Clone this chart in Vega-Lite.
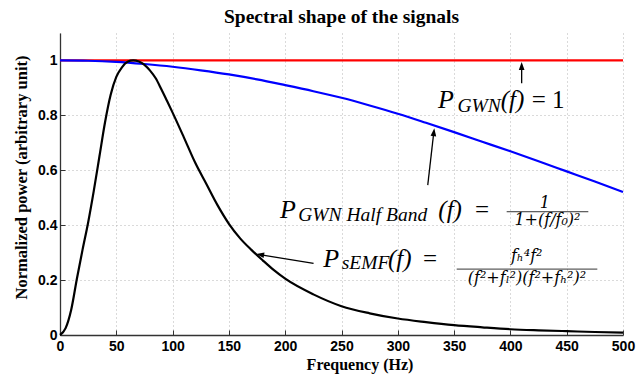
{
  "$schema": "https://vega.github.io/schema/vega-lite/v6.json",
  "width": 563,
  "height": 302,
  "autosize": {"type": "none"},
  "padding": {"left": 60, "top": 33, "right": 20, "bottom": 39},
  "background": "white",
  "title": {"text": "Spectral shape of the signals", "font": "Liberation Serif", "fontSize": 19.5, "fontWeight": "bold", "color": "black", "anchor": "middle", "offset": 6},
  "config": {
    "view": {"stroke": null},
    "axis": {"labelFont": "Liberation Sans", "labelFontSize": 14, "labelFontWeight": "bold", "labelColor": "#000", "titleFont": "Liberation Serif", "titleFontSize": 16, "titleFontWeight": "bold", "titleColor": "#000", "domainColor": "#333", "domainWidth": 1.3, "tickColor": "#333", "tickSize": -5, "gridColor": "#b4b4b4", "gridDash": [1, 3], "gridWidth": 1, "labelOverlap": false, "labelFlush": false}
  },
  "datasets": {
    "red": [{"f": 0, "v": 1}, {"f": 500, "v": 1}],
    "blue": [
      {"f": 0, "v": 1.0}, {"f": 25, "v": 0.999}, {"f": 50, "v": 0.995}, {"f": 75, "v": 0.987}, {"f": 100, "v": 0.977},
      {"f": 125, "v": 0.964}, {"f": 150, "v": 0.949}, {"f": 175, "v": 0.931}, {"f": 200, "v": 0.91}, {"f": 225, "v": 0.888},
      {"f": 250, "v": 0.864}, {"f": 275, "v": 0.836}, {"f": 300, "v": 0.806}, {"f": 325, "v": 0.773}, {"f": 350, "v": 0.739},
      {"f": 375, "v": 0.704}, {"f": 400, "v": 0.669}, {"f": 425, "v": 0.633}, {"f": 450, "v": 0.596}, {"f": 475, "v": 0.559},
      {"f": 500, "v": 0.521}
    ],
    "black": [
      {"f": 0, "v": 0}, {"f": 5, "v": 0.025}, {"f": 10, "v": 0.093}, {"f": 15, "v": 0.205}, {"f": 20, "v": 0.31},
      {"f": 25, "v": 0.41}, {"f": 30, "v": 0.525}, {"f": 35, "v": 0.65}, {"f": 40, "v": 0.775}, {"f": 45, "v": 0.875},
      {"f": 50, "v": 0.94}, {"f": 55, "v": 0.975}, {"f": 60, "v": 0.995}, {"f": 65, "v": 1.0}, {"f": 70, "v": 0.996},
      {"f": 75, "v": 0.984}, {"f": 80, "v": 0.963}, {"f": 85, "v": 0.935}, {"f": 90, "v": 0.895}, {"f": 95, "v": 0.853},
      {"f": 100, "v": 0.81}, {"f": 110, "v": 0.72}, {"f": 120, "v": 0.628}, {"f": 130, "v": 0.55}, {"f": 140, "v": 0.472},
      {"f": 150, "v": 0.405}, {"f": 160, "v": 0.352}, {"f": 170, "v": 0.31}, {"f": 180, "v": 0.272}, {"f": 190, "v": 0.236},
      {"f": 200, "v": 0.205}, {"f": 225, "v": 0.148}, {"f": 250, "v": 0.105}, {"f": 275, "v": 0.079}, {"f": 300, "v": 0.06},
      {"f": 325, "v": 0.047}, {"f": 350, "v": 0.036}, {"f": 375, "v": 0.028}, {"f": 400, "v": 0.021}, {"f": 425, "v": 0.017},
      {"f": 450, "v": 0.014}, {"f": 475, "v": 0.011}, {"f": 500, "v": 0.009}
    ],
    "mathP": [
      {"f": 335.7, "v": 0.827, "t": "P"},
      {"f": 195.4, "v": 0.425, "t": "P"},
      {"f": 233.8, "v": 0.249, "t": "P"}
    ],
    "mathBig": [
      {"f": 391.4, "v": 0.827, "t": "(f)"},
      {"f": 336.0, "v": 0.425, "t": "(f)"},
      {"f": 291.3, "v": 0.249, "t": "(f)"}
    ],
    "mathRoman": [
      {"f": 418.9, "v": 0.827, "t": "= 1"},
      {"f": 368.6, "v": 0.425, "t": "="},
      {"f": 322.4, "v": 0.249, "t": "="}
    ],
    "mathSub": [
      {"f": 353.0, "v": 0.813, "t": "GWN"},
      {"f": 211.6, "v": 0.416, "t": "GWN Half Band"},
      {"f": 250.2, "v": 0.239, "t": "sEMF"}
    ],
    "mathFrac": [
      {"f": 430.7, "v": 0.464, "t": "1"},
      {"f": 432.9, "v": 0.401, "t": "1+(f/f₀)²"},
      {"f": 414.5, "v": 0.271, "t": "fₕ⁴f²"},
      {"f": 414.7, "v": 0.188, "t": "(f²+fₗ²)(f²+fₕ²)²"}
    ],
    "fracBars": [
      {"f": 396.7, "f2": 469.2, "v": 0.449},
      {"f": 352.3, "f2": 477.2, "v": 0.240}
    ],
    "arrowLines": [
      {"f": 410, "v": 0.917, "f2": 410, "v2": 0.98},
      {"f": 326.6, "v": 0.546, "f2": 332.0, "v2": 0.74},
      {"f": 225.2, "v": 0.261, "f2": 180.0, "v2": 0.291}
    ],
    "heads": [
      {"id": 1, "f": 410, "v": 0.994},
      {"id": 2, "f": 332.4, "v": 0.753},
      {"id": 3, "f": 174.3, "v": 0.295}
    ]
  },
  "encoding": {
    "x": {"field": "f", "type": "quantitative", "scale": {"domain": [0, 500], "nice": false, "zero": false},
      "axis": {"values": [0, 50, 100, 150, 200, 250, 300, 350, 400, 450, 500], "title": "Frequency (Hz)", "labelPadding": 9, "titleX": 299.5, "titleY": 34, "titleBaseline": "alphabetic", "titleAlign": "center"}},
    "y": {"field": "v", "type": "quantitative", "scale": {"domain": [0, 1.1], "nice": false, "zero": false},
      "axis": {"values": [0, 0.2, 0.4, 0.6, 0.8, 1], "format": "~g", "title": "Normalized power (arbitrary unit)", "labelPadding": 8, "titleFontSize": 16.5, "titleX": -39, "titleY": 144, "titleBaseline": "middle", "titleAlign": "center", "titleAngle": -90}}
  },
  "layer": [
    {"data": {"name": "red"}, "mark": {"type": "line", "color": "#ff0000", "strokeWidth": 2.2}},
    {"data": {"name": "blue"}, "mark": {"type": "line", "color": "#0000ff", "strokeWidth": 2.2, "interpolate": "monotone"}},
    {"data": {"name": "black"}, "mark": {"type": "line", "color": "#000000", "strokeWidth": 2.2, "interpolate": "monotone"}},
    {"data": {"name": "arrowLines"}, "mark": {"type": "rule", "color": "#000", "strokeWidth": 1.3},
      "encoding": {"x2": {"field": "f2"}, "y2": {"field": "v2"}}},
    {"data": {"name": "heads"}, "transform": [{"filter": "datum.id == 1"}],
      "mark": {"type": "point", "shape": "M0,0L-0.36,1L0.36,1Z", "filled": true, "color": "#000", "opacity": 1, "size": 250, "angle": 0}},
    {"data": {"name": "heads"}, "transform": [{"filter": "datum.id == 2"}],
      "mark": {"type": "point", "shape": "M0,0L-0.36,1L0.36,1Z", "filled": true, "color": "#000", "opacity": 1, "size": 250, "angle": 6.5}},
    {"data": {"name": "heads"}, "transform": [{"filter": "datum.id == 3"}],
      "mark": {"type": "point", "shape": "M0,0L-0.36,1L0.36,1Z", "filled": true, "color": "#000", "opacity": 1, "size": 250, "angle": -80.8}},
    {"data": {"name": "fracBars"}, "mark": {"type": "rule", "color": "#000", "strokeWidth": 0.8},
      "encoding": {"x2": {"field": "f2"}}},
    {"data": {"name": "mathP"}, "mark": {"type": "text", "font": "Liberation Serif", "fontStyle": "italic", "fontSize": 26, "align": "left", "baseline": "alphabetic", "color": "#000"},
      "encoding": {"text": {"field": "t"}}},
    {"data": {"name": "mathBig"}, "mark": {"type": "text", "font": "Liberation Serif", "fontStyle": "italic", "fontSize": 25, "align": "left", "baseline": "alphabetic", "color": "#000"},
      "encoding": {"text": {"field": "t"}}},
    {"data": {"name": "mathRoman"}, "mark": {"type": "text", "font": "Liberation Serif", "fontSize": 25, "align": "left", "baseline": "alphabetic", "color": "#000"},
      "encoding": {"text": {"field": "t"}}},
    {"data": {"name": "mathSub"}, "mark": {"type": "text", "font": "Liberation Serif", "fontStyle": "italic", "fontSize": 19.5, "align": "left", "baseline": "alphabetic", "color": "#000"},
      "encoding": {"text": {"field": "t"}}},
    {"data": {"name": "mathFrac"}, "mark": {"type": "text", "font": "DejaVu Serif", "fontStyle": "italic", "fontSize": 16, "align": "center", "baseline": "alphabetic", "color": "#000"},
      "encoding": {"text": {"field": "t"}}}
  ]
}
